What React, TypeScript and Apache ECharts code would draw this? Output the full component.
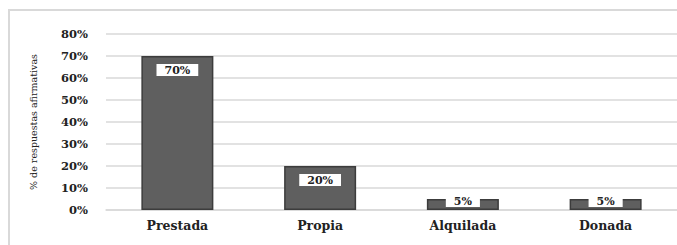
import React, { useEffect, useRef } from "react";
import * as echarts from "echarts";

const categories = ["Prestada", "Propia", "Alquilada", "Donada"];
const values = [70, 20, 5, 5];
const yTicks = [0, 10, 20, 30, 40, 50, 60, 70, 80];
const yAxisTitle = "% de respuestas afirmativas";

const FONT = '"DejaVu Serif", "Liberation Serif", serif';

export default function App() {
  const ref = useRef<HTMLDivElement>(null);
  useEffect(() => {
    if (!ref.current) return;
    const chart = echarts.init(ref.current, null, { renderer: "svg" });
    chart.setOption({
      animation: false,
      backgroundColor: "#ffffff",
      graphic: [
        {
          type: "rect",
          shape: { x: 9, y: 10, width: 700, height: 260 },
          style: { fill: "none", stroke: "#d9d9d9", lineWidth: 2 },
          silent: true,
          z: 0,
        },
      ],
      grid: { left: 106, right: -3, top: 34, bottom: 35, containLabel: false },
      xAxis: {
        type: "category",
        data: categories,
        axisLine: { show: true, lineStyle: { color: "#d9d9d9", width: 1.5 } },
        axisTick: { show: false },
        axisLabel: {
          margin: 9,
          color: "#222222",
          fontFamily: FONT,
          fontWeight: "bold",
          fontSize: 12.5,
        },
      },
      yAxis: {
        type: "value",
        min: yTicks[0],
        max: yTicks[yTicks.length - 1],
        interval: 10,
        name: yAxisTitle,
        nameLocation: "middle",
        nameRotate: 90,
        nameGap: 68,
        nameTextStyle: {
          color: "#222222",
          fontFamily: FONT,
          fontWeight: "normal",
          fontSize: 9.5,
        },
        axisLine: { show: false },
        axisTick: { show: false },
        splitLine: { lineStyle: { color: "#d9d9d9", width: 1.5 } },
        axisLabel: {
          margin: 18,
          color: "#222222",
          fontFamily: FONT,
          fontWeight: "bold",
          fontSize: 11.5,
          formatter: (v: number) => v + "%",
        },
      },
      series: [
        {
          type: "bar",
          barWidth: 72,
          data: values.map((v) => ({
            value: v,
            label: { position: v >= 10 ? ["50%", 14] : ["50%", 2] },
          })),
          itemStyle: { color: "#5f5f5f", borderColor: "#3c3c3c", borderWidth: 1.5 },
          label: {
            show: true,
            align: "center",
            verticalAlign: "middle",
            formatter: (p: any) => p.value + "%",
            backgroundColor: "#ffffff",
            padding: [1, 8, 0, 8],
            color: "#222222",
            fontFamily: FONT,
            fontWeight: "bold",
            fontSize: 11,
          },
        },
      ],
    });
    return () => chart.dispose();
  }, []);
  return (
    <div
      ref={ref}
      style={{ position: "fixed", left: 0, top: 0, width: 677, height: 245 }}
    />
  );
}
